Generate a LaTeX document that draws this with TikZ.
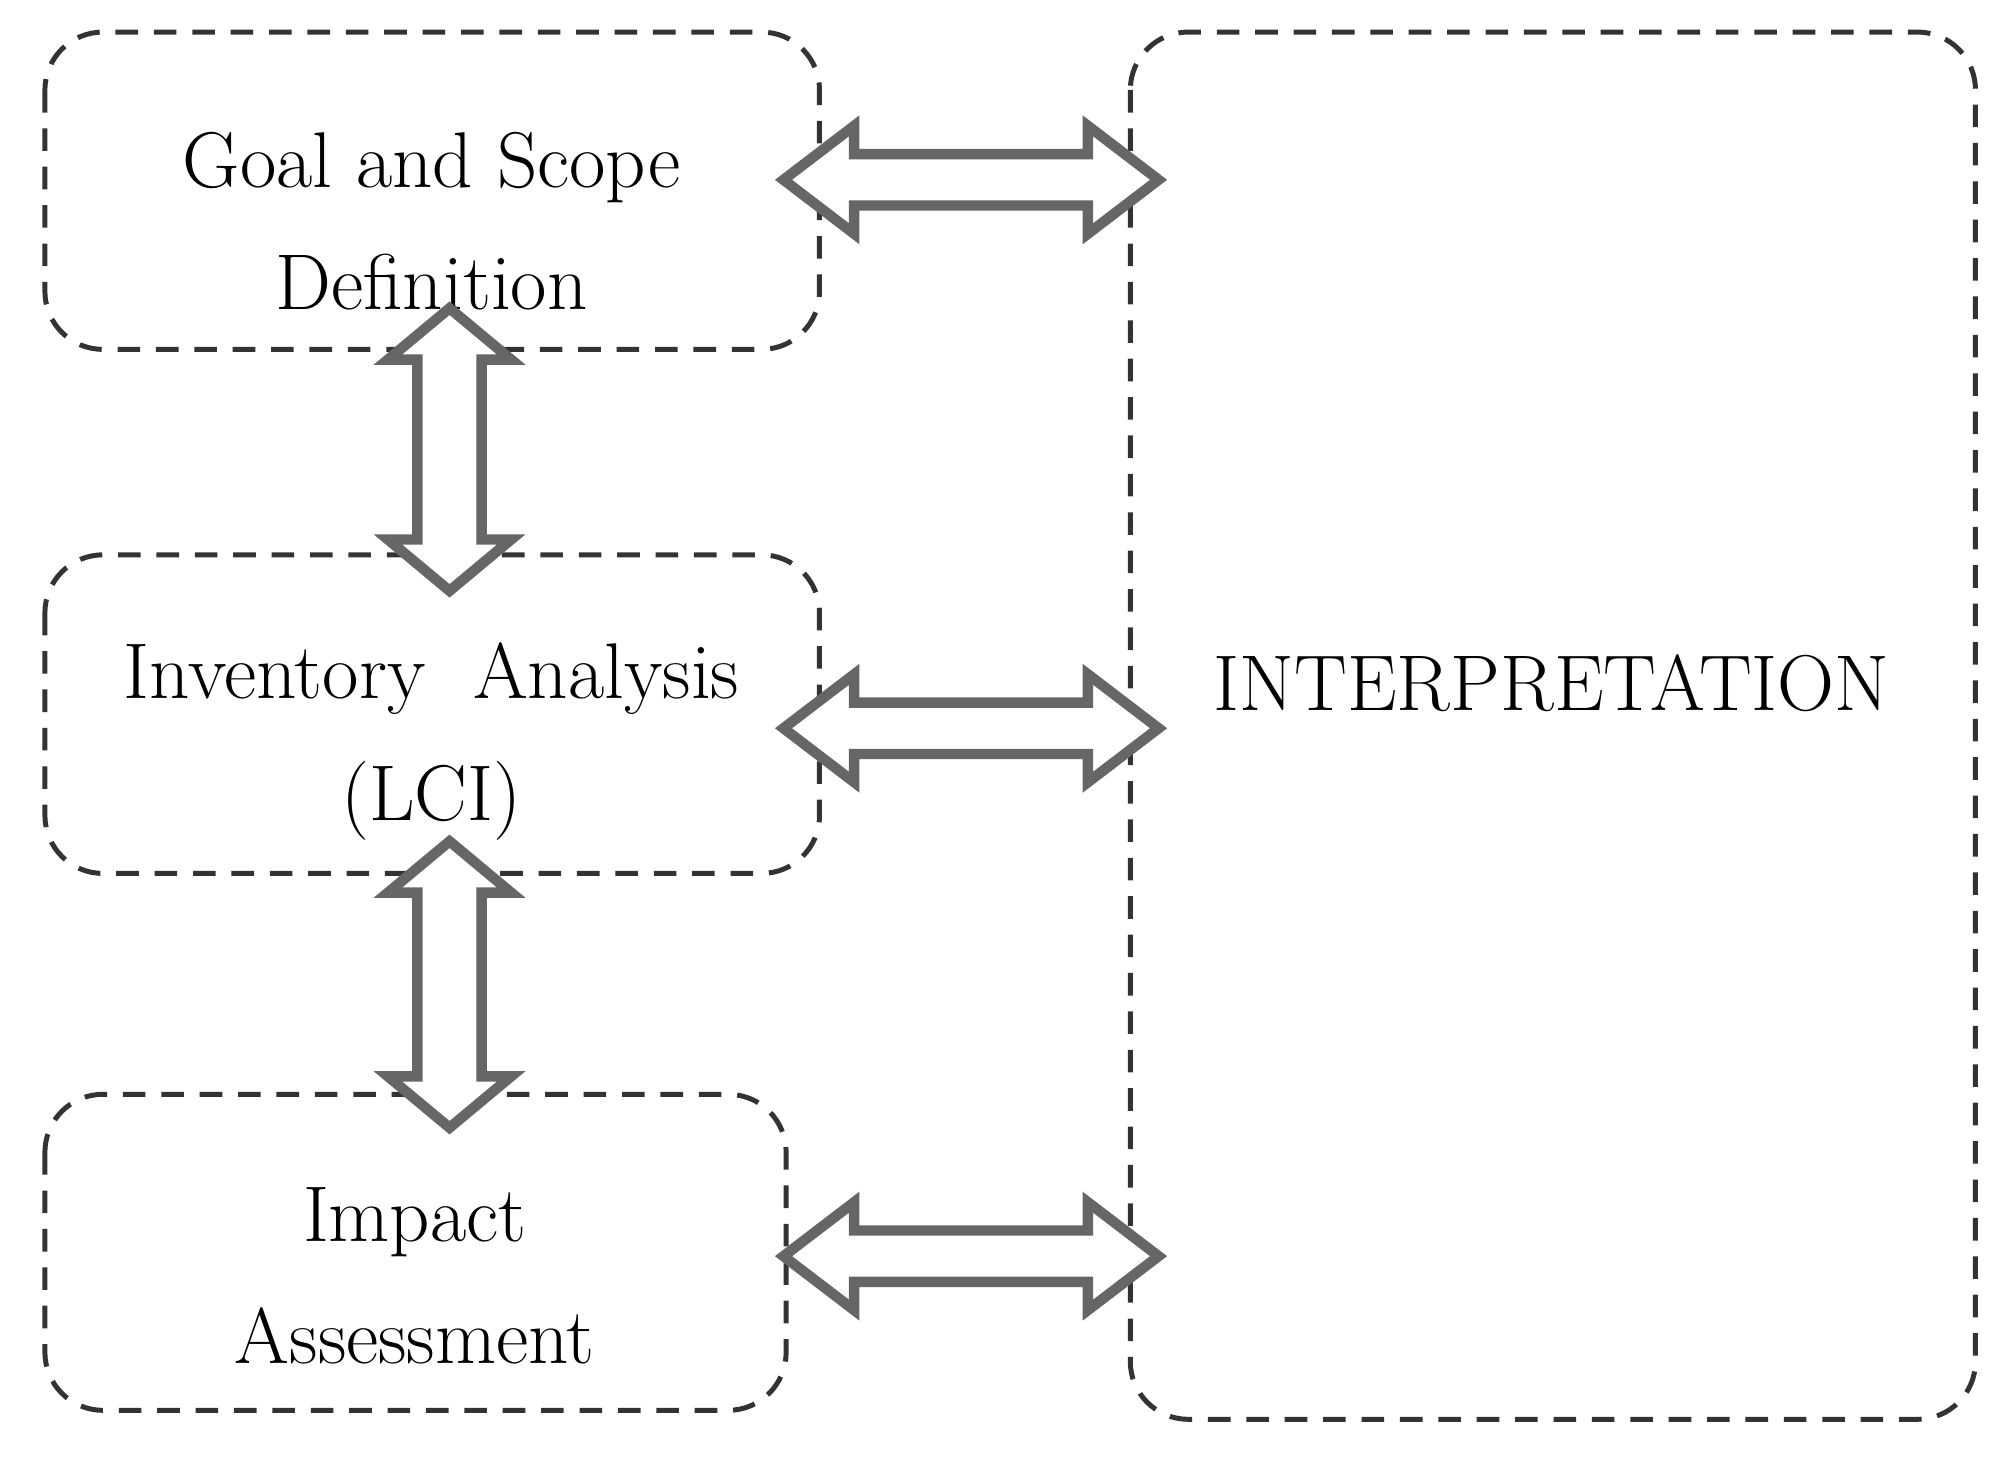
\documentclass[tikz,border=0pt]{standalone}
\usetikzlibrary{calc}
\begin{document}
\begin{tikzpicture}[x=0.01cm,y=-0.01cm,
  box/.style={draw=black!80,dashed,dash pattern=on 5pt off 3.5pt,line width=1.1pt,rounded corners=0.45cm,inner sep=0pt},
  lbl/.style={font=\fontsize{17.5}{27}\selectfont,align=center},
  dbl/.style={draw=black!60,line width=2.3pt,fill=white,line join=miter}]
\useasboundingbox (0,0) rectangle (1568,1134);
\fill[white] (0,0) rectangle (1568,1134);
\draw[box] (35,25) rectangle (638,272);
\draw[box] (35,432) rectangle (638,680);
\draw[box] (35,852) rectangle (612,1098);
\draw[box] (880,25) rectangle (1538,1105);
\node[lbl] (gs) at (336,172) {Goal and Scope\\Definition};
\node[lbl] (ia) at (336,577) {Inventory\ \ Analysis\\(LCI)};
\node[lbl] (ie) at (323,993) {Impact\\Assessment};
\node[lbl] (in) at (1208,532) {INTERPRETATION};
% horizontal double arrows
\foreach \y in {140,567,978}{
  \draw[dbl] (610,\y) -- (665,\y-42) -- (665,\y-20) -- (847,\y-20) -- (847,\y-42) -- (902,\y)
   -- (847,\y+42) -- (847,\y+20) -- (665,\y+20) -- (665,\y+42) -- cycle;}
% vertical double arrows
\foreach \a/\b in {240/460,655/878}{
  \draw[dbl] (350,\a) -- (398,\a+40) -- (375,\a+40) -- (375,\b-40) -- (398,\b-40) -- (350,\b)
   -- (302,\b-40) -- (325,\b-40) -- (325,\a+40) -- (302,\a+40) -- cycle;}
\end{tikzpicture}
\end{document}
